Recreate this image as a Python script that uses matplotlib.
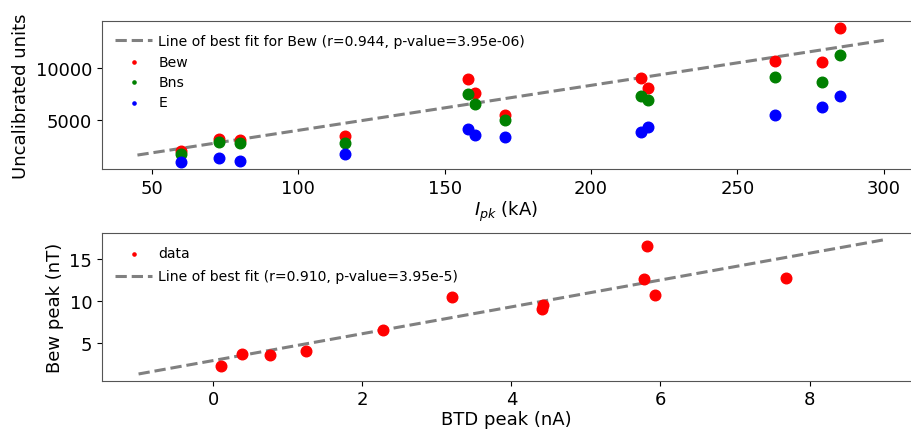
import numpy as np
import matplotlib
matplotlib.use("Agg")
import matplotlib.pyplot as plt

plt.rcParams['font.family'] = ['DejaVu Sans']

# ---- panel 1: uncalibrated units vs peak current
ipk = [60, 73, 80, 116, 158, 160.5, 170.5, 217, 219.5, 263, 279, 285]
bew = [2020, 3170, 3080, 3460, 8940, 7600, 5480, 9040, 8080, 10670, 10580, 13850]
bns = [1730, 2890, 2790, 2790, 7500, 6540, 5000, 7310, 6920, 9140, 8650, 11250]
e_field = [960, 1350, 1060, 1730, 4140, 3560, 3370, 3850, 4330, 5480, 6250, 7310]

fit1_x = [45, 300]
fit1_slope = 43.1
fit1_icpt = -290

# ---- panel 2: Bew peak vs BTD peak
btd = [0.10, 0.39, 0.76, 1.25, 2.28, 3.20, 4.41, 4.42, 5.78, 5.82, 5.93, 7.68]
bew_pk = [2.2, 3.6, 3.5, 4.0, 6.5, 10.5, 9.0, 9.5, 12.65, 16.6, 10.7, 12.7]

fit2_x = [-1, 9]
fit2_slope = 1.607
fit2_icpt = 2.84

fig = plt.figure(figsize=(9.11, 4.31), dpi=100)
# the original is cropped on the right, so the axes run to the edge
ax1 = fig.add_axes([0.112, 0.6056, 0.888, 0.3434])
ax2 = fig.add_axes([0.112, 0.1144, 0.888, 0.3426])

fx1 = np.array(fit1_x)
ax1.plot(fx1, fit1_icpt + fit1_slope * fx1, '--', color='gray', lw=2.2,
         label='Line of best fit for Bew (r=0.944, p-value=3.95e-06)')
ax1.scatter(ipk, bew, s=58, color='r', label='Bew', zorder=3)
ax1.scatter(ipk, bns, s=58, color='g', label='Bns', zorder=3)
ax1.scatter(ipk, e_field, s=58, color='b', label='E', zorder=3)
ax1.set_xlim(32.9, 309.3)
ax1.set_xticks([50, 100, 150, 200, 250, 300])
ax1.set_yticks([5000, 10000])
ax1.set_xlabel('$I_{pk}$ (kA)', fontsize=13, labelpad=1.5)
ax1.set_ylabel('Uncalibrated units', fontsize=13)
ax1.legend(loc='upper left', frameon=False, fontsize=10.1, markerscale=0.3,
           labelspacing=0.45, handlelength=2.6, handletextpad=0.45,
           borderaxespad=0.55)

fx2 = np.array(fit2_x)
ax2.scatter(btd, bew_pk, s=58, color='r', label='data', zorder=3)
ax2.plot(fx2, fit2_icpt + fit2_slope * fx2, '--', color='gray', lw=2.2,
         label='Line of best fit (r=0.910, p-value=3.95e-5)')
ax2.set_xlim(-1.49, 9.36)
ax2.set_xticks([0, 2, 4, 6, 8])
ax2.set_yticks([5, 10, 15])
ax2.set_xlabel('BTD peak (nA)', fontsize=13, labelpad=1)
ax2.set_ylabel('Bew peak (nT)', fontsize=13)
ax2.legend(loc='upper left', frameon=False, fontsize=10.1, markerscale=0.3,
           labelspacing=0.65, handlelength=2.6, handletextpad=0.45,
           borderaxespad=0.55)

for ax in (ax1, ax2):
    ax.tick_params(labelsize=13)
    for sp in ax.spines.values():
        sp.set_color('#555555')
    ax.spines['right'].set_visible(False)

fig.savefig('out.png', dpi=100)
